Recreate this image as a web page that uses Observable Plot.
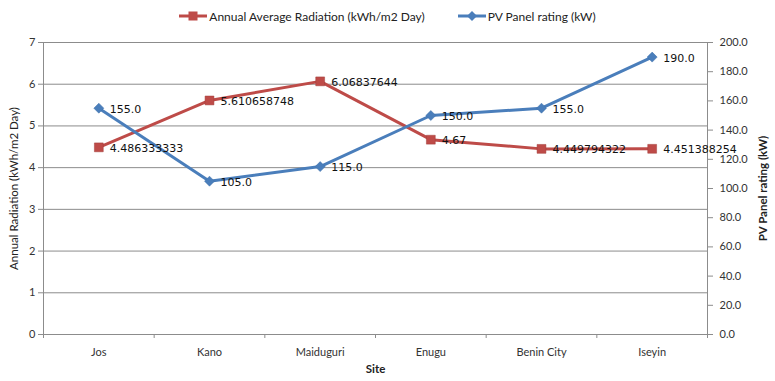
<!DOCTYPE html>
<html><head><meta charset="utf-8">
<script src="https://cdn.jsdelivr.net/npm/d3@7"></script>
<script src="https://cdn.jsdelivr.net/npm/@observablehq/plot@0.6"></script>
<style>
body{margin:0;background:#fff;font-family:Lato,sans-serif;}
#legend{height:30px;display:flex;align-items:center;justify-content:center;gap:30px;font-size:12px;color:#222;padding-top:2px;box-sizing:border-box;}
#legend span{display:flex;align-items:center;}
#legend svg{margin-right:2px;}
</style></head>
<body>
<div id="legend">
 <span><svg width="28" height="12"><line x1="0" y1="6" x2="28" y2="6" stroke="#BE4B48" stroke-width="3"/><rect x="9.5" y="1.5" width="9" height="9" fill="#BE4B48"/></svg>Annual Average Radiation (kWh/m2 Day)</span>
 <span style="margin-left:3px"><svg width="28" height="12"><line x1="0" y1="6" x2="28" y2="6" stroke="#4A7EBB" stroke-width="3"/><path d="M14,1L19,6L14,11L9,6Z" fill="#4A7EBB"/></svg>PV Panel rating (kW)</span>
</div>
<div id="chart"></div>
<script>
const sites = ["Jos", "Kano", "Maiduguri", "Enugu", "Benin City", "Iseyin"];
const radiation = [4.486333333, 5.610658748, 6.06837644, 4.67, 4.449794322, 4.451388254];
const radiationLabels = ["4.486333333", "5.610658748", "6.06837644", "4.67", "4.449794322", "4.451388254"];
const pvRating = [155, 105, 115, 150, 155, 190];
const leftTicks = [0, 1, 2, 3, 4, 5, 6, 7];
const rightTicks = [0, 20, 40, 60, 80, 100, 120, 140, 160, 180, 200];

const LEFT_MAX = 7, RIGHT_MAX = 200;
const toLeft = v => v * LEFT_MAX / RIGHT_MAX;

const radData = sites.map((s, i) => ({i, site: s, v: radiation[i], label: radiationLabels[i]}));
const pvData = sites.map((s, i) => ({i, site: s, v: toLeft(pvRating[i]), label: pvRating[i].toFixed(1)}));

const RED = "#BE4B48", BLUE = "#4A7EBB", GRID = "#8c8c8c";
const diamond = {draw(ctx, size){const h = Math.sqrt(size/2); ctx.moveTo(0,-h); ctx.lineTo(h,0); ctx.lineTo(0,h); ctx.lineTo(-h,0); ctx.closePath();}};

const plot = Plot.plot({
  width: 775, height: 351,
  marginLeft: 43, marginRight: 68, marginTop: 12, marginBottom: 47,
  style: {fontFamily: "Lato, sans-serif", fontSize: "11px", color: "#333", background: "#fff"},
  x: {type: "linear", domain: [-0.5, sites.length - 0.5]},
  y: {domain: [0, LEFT_MAX]},
  marks: [
    Plot.ruleY(leftTicks, {x1: -0.5, x2: sites.length - 0.5, stroke: GRID, strokeWidth: 1}),
    Plot.ruleX([-0.5, sites.length - 0.5], {y1: 0, y2: LEFT_MAX, stroke: GRID, strokeWidth: 1}),
    Plot.axisY({anchor: "left", ticks: leftTicks, tickSize: 5, tickPadding: 3, tickFormat: d => String(d), label: null, stroke: GRID}),
    Plot.axisY({anchor: "right", ticks: rightTicks.map(toLeft), tickSize: 5, tickPadding: 7, tickFormat: d => (d * RIGHT_MAX / LEFT_MAX).toFixed(1), label: null, stroke: GRID}),
    Plot.axisX({ticks: d3.range(-0.5, sites.length, 1), tickSize: 4, tickFormat: () => "", label: null, stroke: GRID}),
    Plot.axisX({ticks: d3.range(sites.length), tickSize: 0, tickPadding: 14, tickFormat: i => sites[i], label: null}),
    Plot.text(["Annual Radiation (kWh/m2 Day)"], {frameAnchor: "left", textAnchor: "middle", rotate: -90, dx: -29, fontSize: 11.5, fill: "#222"}),
    Plot.text(["PV Panel rating (kW)"], {frameAnchor: "right", textAnchor: "middle", rotate: -90, dx: 56, fontSize: 11.5, fontWeight: "bold", fill: "#222"}),
    Plot.text(["Site"], {frameAnchor: "bottom", dy: 38, fontSize: 11.5, fontWeight: "bold", fill: "#222"}),
    Plot.line(radData, {x: "i", y: "v", stroke: RED, strokeWidth: 3}),
    Plot.line(pvData, {x: "i", y: "v", stroke: BLUE, strokeWidth: 3}),
    Plot.dot(radData, {x: "i", y: "v", symbol: "square", r: 5, fill: RED, stroke: "#a33e3b", strokeWidth: 0.5}),
    Plot.dot(pvData, {x: "i", y: "v", symbol: diamond, r: 4, fill: BLUE, stroke: "#3d6ea8", strokeWidth: 0.5}),
    Plot.text(radData, {x: "i", y: "v", text: "label", textAnchor: "start", dx: 11, dy: 1, fontFamily: "DejaVu Sans", fontSize: 11, fill: "#111"}),
    Plot.text(pvData, {x: "i", y: "v", text: "label", textAnchor: "start", dx: 11, dy: 1, fontFamily: "DejaVu Sans", fontSize: 11, fill: "#111"})
  ]
});
document.getElementById("chart").appendChild(plot);
</script>
</body></html>
